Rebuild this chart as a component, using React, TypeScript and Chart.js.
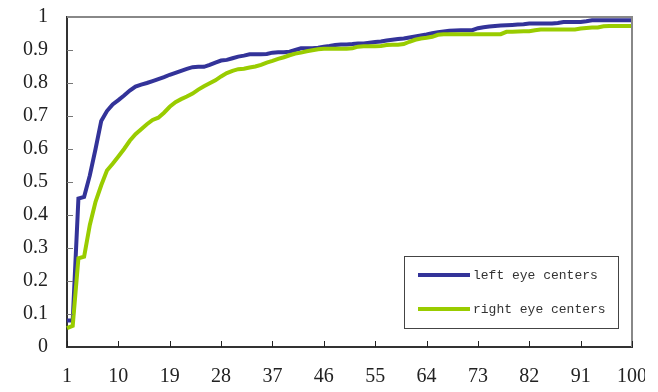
import React, { useEffect, useRef } from "react";
import { Chart, registerables } from "chart.js";

Chart.register(...registerables);

const categories: string[] = Array.from({ length: 100 }, (_, i) => String(i + 1));
const xTickLabels = ["1", "10", "19", "28", "37", "46", "55", "64", "73", "82", "91", "100"];
const yTickLabels = ["0", "0.1", "0.2", "0.3", "0.4", "0.5", "0.6", "0.7", "0.8", "0.9", "1"];
const seriesNames = ["left eye centers", "right eye centers"];
const seriesColors = ["#333399", "#99cc00"];

const leftEye = [
  0.08, 0.08, 0.45, 0.455, 0.52, 0.6, 0.685, 0.715, 0.735, 0.748,
  0.762, 0.777, 0.789, 0.795, 0.8, 0.806, 0.812, 0.818, 0.825, 0.831,
  0.837, 0.843, 0.848, 0.849, 0.849, 0.855, 0.862, 0.868, 0.87, 0.875,
  0.88, 0.883, 0.887, 0.887, 0.887, 0.888, 0.892, 0.893, 0.893, 0.895,
  0.9, 0.905, 0.905, 0.905, 0.907, 0.91, 0.912, 0.915, 0.917, 0.917,
  0.918, 0.92, 0.92, 0.922, 0.924, 0.926, 0.929, 0.931, 0.933, 0.935,
  0.938, 0.941, 0.944, 0.947, 0.951, 0.954, 0.956, 0.958, 0.959, 0.96,
  0.96, 0.96, 0.966, 0.969, 0.971, 0.973, 0.974, 0.975, 0.976, 0.977,
  0.978, 0.98, 0.98, 0.98, 0.98, 0.98, 0.982, 0.985, 0.985, 0.985,
  0.985, 0.987, 0.99, 0.99, 0.99, 0.99, 0.99, 0.99, 0.99, 0.99,
];

const rightEye = [
  0.057, 0.064, 0.269, 0.274, 0.37, 0.44, 0.49, 0.535, 0.555, 0.577,
  0.6, 0.625, 0.645, 0.66, 0.675, 0.688, 0.695, 0.71, 0.728, 0.742,
  0.751, 0.759, 0.768, 0.78, 0.79, 0.799, 0.808, 0.82, 0.83, 0.837,
  0.842, 0.843, 0.847, 0.85, 0.855, 0.862, 0.867, 0.873, 0.878, 0.884,
  0.889, 0.892, 0.896, 0.899, 0.902, 0.904, 0.904, 0.904, 0.904, 0.904,
  0.905, 0.91, 0.911, 0.911, 0.911, 0.912, 0.915, 0.916, 0.916, 0.918,
  0.925, 0.931, 0.935, 0.937, 0.94, 0.946, 0.948, 0.948, 0.948, 0.948,
  0.948, 0.948, 0.948, 0.948, 0.948, 0.948, 0.948, 0.955, 0.955, 0.956,
  0.957, 0.957, 0.96, 0.962, 0.962, 0.962, 0.962, 0.962, 0.962, 0.962,
  0.965, 0.967, 0.968, 0.968, 0.972, 0.973, 0.973, 0.973, 0.973, 0.973,
];

const framePlugin = {
  id: "frameAndLegend",
  afterDatasetsDraw(chart: any) {
    const { ctx, chartArea: a, scales } = chart;
    ctx.save();
    // top / right frame
    ctx.strokeStyle = "#888888";
    ctx.lineWidth = 2;
    ctx.beginPath();
    ctx.moveTo(a.left, a.top);
    ctx.lineTo(a.right, a.top);
    ctx.lineTo(a.right, a.bottom);
    ctx.stroke();

    // x tick marks (inside)
    const xs = scales.x;
    ctx.strokeStyle = "#222222";
    ctx.lineWidth = 1;
    xs.ticks.forEach((t: any, i: number) => {
      if (t.label == null) return;
      const x = Math.round(xs.getPixelForTick(i)) + 0.5;
      ctx.beginPath();
      ctx.moveTo(x, a.bottom);
      ctx.lineTo(x, a.bottom - 6);
      ctx.stroke();
    });

    // y tick marks (inside)
    const ys = scales.y;
    ctx.strokeStyle = "#777777";
    ys.ticks.forEach((t: any, i: number) => {
      if (t.value <= 0 || t.value >= 1) return;
      const y = Math.round(ys.getPixelForTick(i)) + 0.5;
      ctx.beginPath();
      ctx.moveTo(a.left, y);
      ctx.lineTo(a.left + 6, y);
      ctx.stroke();
    });

    // legend box
    const bx = a.right - 228;
    const by = a.bottom - 91;
    const bw = 214;
    const bh = 72;
    ctx.fillStyle = "#ffffff";
    ctx.fillRect(bx, by, bw, bh);
    ctx.strokeStyle = "#444444";
    ctx.lineWidth = 1;
    ctx.strokeRect(bx + 0.5, by + 0.5, bw, bh);

    const rows = [by + 19, by + 53];
    ctx.font = "13px 'Liberation Mono', monospace";
    ctx.textBaseline = "middle";
    ctx.textAlign = "left";
    chart.data.datasets.forEach((ds: any, i: number) => {
      const y = rows[i];
      ctx.strokeStyle = ds.borderColor;
      ctx.lineWidth = 4;
      ctx.beginPath();
      ctx.moveTo(bx + 14, y);
      ctx.lineTo(bx + 66, y);
      ctx.stroke();
      ctx.fillStyle = "#333333";
      ctx.fillText(ds.label, bx + 69, y + 1);
    });
    ctx.restore();
  },
};

export default function App() {
  const canvasRef = useRef<HTMLCanvasElement | null>(null);

  useEffect(() => {
    const canvas = canvasRef.current;
    if (!canvas) return;
    const chart = new Chart(canvas, {
      type: "line",
      data: {
        labels: categories,
        datasets: [
          {
            label: seriesNames[0],
            data: leftEye,
            borderColor: seriesColors[0],
            backgroundColor: seriesColors[0],
            borderWidth: 4,
            pointRadius: 0,
            tension: 0,
            fill: false,
            order: 1,
          },
          {
            label: seriesNames[1],
            data: rightEye,
            borderColor: seriesColors[1],
            backgroundColor: seriesColors[1],
            borderWidth: 4,
            pointRadius: 0,
            tension: 0,
            fill: false,
            order: 0,
          },
        ],
      },
      options: {
        responsive: false,
        animation: false,
        devicePixelRatio: 1,
        layout: { autoPadding: false, padding: { left: 0, right: 26, top: 17, bottom: 0 } },
        plugins: {
          legend: { display: false },
          tooltip: { enabled: false },
        },
        scales: {
          x: {
            type: "category",
            offset: false,
            grid: { display: false, drawTicks: false },
            border: { display: true, color: "#333333", width: 2 },
            afterFit: (scale: any) => {
              scale.height = 45;
              scale.paddingLeft = 0;
              scale.paddingRight = 0;
            },
            ticks: {
              autoSkip: false,
              maxRotation: 0,
              minRotation: 0,
              padding: 18,
              color: "#222222",
              font: { family: "'Liberation Serif', serif", size: 20 },
              callback: (_v: any, i: number) => {
                const lab = categories[i];
                return xTickLabels.includes(lab) ? lab : null;
              },
            },
          },
          y: {
            min: 0,
            max: 1,
            grid: { display: false, drawTicks: false },
            border: { display: true, color: "#333333", width: 2 },
            afterFit: (scale: any) => {
              scale.width = 67;
              scale.paddingTop = 0;
              scale.paddingBottom = 0;
            },
            ticks: {
              stepSize: 0.1,
              padding: 19,
              color: "#222222",
              font: { family: "'Liberation Serif', serif", size: 20 },
              callback: (_v: any, i: number) => yTickLabels[i],
            },
          },
        },
      },
      plugins: [framePlugin],
    } as any);
    return () => chart.destroy();
  }, []);

  return (
    <div
      style={{
        position: "absolute",
        left: 0,
        top: 0,
        width: 645,
        height: 392,
        overflow: "hidden",
        background: "#ffffff",
      }}
    >
      <canvas ref={canvasRef} width={658} height={392} style={{ width: 658, height: 392, display: "block" }} />
    </div>
  );
}
